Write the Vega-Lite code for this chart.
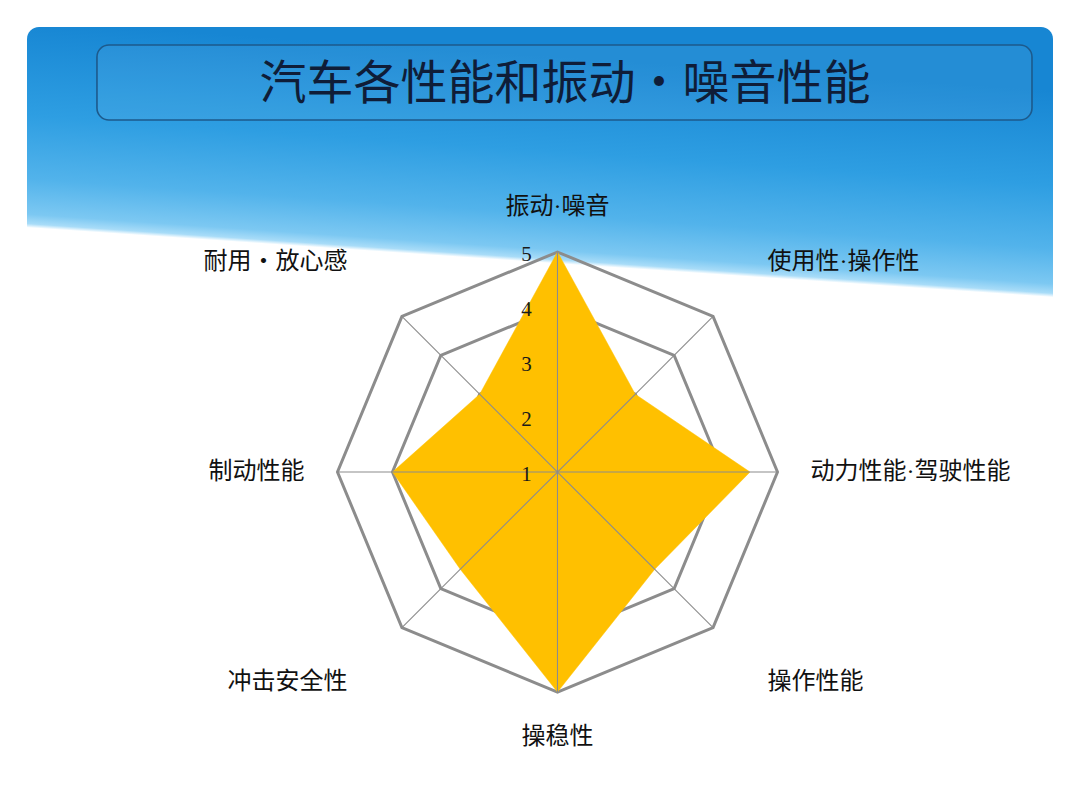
{
  "$schema": "https://vega.github.io/schema/vega-lite/v6.json",
  "width": 1080,
  "height": 810,
  "autosize": {"type": "fit", "contains": "padding"},
  "padding": {"left": 27, "top": 27, "right": 27, "bottom": 0},
  "background": "#ffffff",
  "config": {"view": {"stroke": null}},
  "datasets": {
    "scores": [
      {"idx": 0, "axis": "振动·噪音", "score": 5},
      {"idx": 1, "axis": "使用性·操作性", "score": 3},
      {"idx": 2, "axis": "动力性能·驾驶性能", "score": 4.5},
      {"idx": 3, "axis": "操作性能", "score": 3.5},
      {"idx": 4, "axis": "操稳性", "score": 5},
      {"idx": 5, "axis": "冲击安全性", "score": 3.5},
      {"idx": 6, "axis": "制动性能", "score": 4},
      {"idx": 7, "axis": "耐用・放心感", "score": 3}
    ],
    "grid": [
      {"level": 2, "idx": 0}, {"level": 2, "idx": 1}, {"level": 2, "idx": 2}, {"level": 2, "idx": 3},
      {"level": 2, "idx": 4}, {"level": 2, "idx": 5}, {"level": 2, "idx": 6}, {"level": 2, "idx": 7},
      {"level": 3, "idx": 0}, {"level": 3, "idx": 1}, {"level": 3, "idx": 2}, {"level": 3, "idx": 3},
      {"level": 3, "idx": 4}, {"level": 3, "idx": 5}, {"level": 3, "idx": 6}, {"level": 3, "idx": 7},
      {"level": 4, "idx": 0}, {"level": 4, "idx": 1}, {"level": 4, "idx": 2}, {"level": 4, "idx": 3},
      {"level": 4, "idx": 4}, {"level": 4, "idx": 5}, {"level": 4, "idx": 6}, {"level": 4, "idx": 7},
      {"level": 5, "idx": 0}, {"level": 5, "idx": 1}, {"level": 5, "idx": 2}, {"level": 5, "idx": 3},
      {"level": 5, "idx": 4}, {"level": 5, "idx": 5}, {"level": 5, "idx": 6}, {"level": 5, "idx": 7}
    ],
    "ticks": [{"level": 1}, {"level": 2}, {"level": 3}, {"level": 4}, {"level": 5}],
    "slide": [{"title": "汽车各性能和振动・噪音性能"}]
  },
  "layer": [
    {
      "data": {"name": "slide"},
      "mark": {
        "type": "rect",
        "cornerRadius": 12,
        "fill": {
          "gradient": "linear",
          "x1": 0.089, "y1": 0, "x2": 0, "y2": 1,
          "stops": [
            {"offset": 0, "color": "#1786d3"},
            {"offset": 0.12, "color": "#2e9ee2"},
            {"offset": 0.2, "color": "#52b3eb"},
            {"offset": 0.245, "color": "#7cc8f2"},
            {"offset": 0.257, "color": "#a8dcf8"},
            {"offset": 0.262, "color": "#ffffff"},
            {"offset": 1, "color": "#ffffff"}
          ]
        }
      },
      "encoding": {}
    },
    {
      "data": {"name": "grid"},
      "transform": [
        {"calculate": "datum.idx * PI / 4", "as": "a"},
        {"calculate": "(datum.level - 1) * sin(datum.a)", "as": "gx"},
        {"calculate": "(datum.level - 1) * cos(datum.a)", "as": "gy"}
      ],
      "mark": {"type": "line", "interpolate": "linear-closed", "stroke": "#8c8c8c", "strokeWidth": 3, "strokeJoin": "miter"},
      "encoding": {
        "x": {"field": "gx", "type": "quantitative", "scale": {"domain": [-9.645, 9.009], "nice": false, "zero": false}, "axis": null},
        "y": {"field": "gy", "type": "quantitative", "scale": {"domain": [-6.145, 8.091], "nice": false, "zero": false}, "axis": null},
        "detail": {"field": "level", "type": "nominal"},
        "order": {"field": "idx", "type": "quantitative"}
      }
    },
    {
      "data": {"name": "scores"},
      "transform": [
        {"calculate": "datum.idx * PI / 4", "as": "a"},
        {"calculate": "(datum.score - 1) * sin(datum.a)", "as": "px"},
        {"calculate": "(datum.score - 1) * cos(datum.a)", "as": "py"}
      ],
      "mark": {"type": "line", "interpolate": "linear-closed", "fill": "#FFC000", "stroke": "#FFC000", "strokeWidth": 0.5},
      "encoding": {
        "x": {"field": "px", "type": "quantitative", "scale": {"domain": [-9.645, 9.009], "nice": false, "zero": false}, "axis": null},
        "y": {"field": "py", "type": "quantitative", "scale": {"domain": [-6.145, 8.091], "nice": false, "zero": false}, "axis": null},
        "order": {"field": "idx", "type": "quantitative"}
      }
    },
    {
      "data": {"name": "scores"},
      "transform": [
        {"calculate": "datum.idx * PI / 4", "as": "a"},
        {"calculate": "4 * sin(datum.a)", "as": "sx"},
        {"calculate": "4 * cos(datum.a)", "as": "sy"}
      ],
      "mark": {"type": "rule", "color": "#8c8c8c", "strokeWidth": 1.1},
      "encoding": {
        "x": {"field": "sx", "type": "quantitative", "scale": {"domain": [-9.645, 9.009], "nice": false, "zero": false}, "axis": null},
        "y": {"field": "sy", "type": "quantitative", "scale": {"domain": [-6.145, 8.091], "nice": false, "zero": false}, "axis": null},
        "x2": {"datum": 0},
        "y2": {"datum": 0}
      }
    },
    {
      "data": {"name": "ticks"},
      "transform": [{"calculate": "datum.level - 1", "as": "ty"}, {"calculate": "-0.47", "as": "tx"}],
      "mark": {"type": "text", "font": "Liberation Serif", "fontSize": 21, "color": "#1a1a1a", "align": "right", "baseline": "middle", "dy": 3},
      "encoding": {
        "x": {"field": "tx", "type": "quantitative", "scale": {"domain": [-9.645, 9.009], "nice": false, "zero": false}, "axis": null},
        "y": {"field": "ty", "type": "quantitative", "scale": {"domain": [-6.145, 8.091], "nice": false, "zero": false}, "axis": null},
        "text": {"field": "level", "type": "quantitative"}
      }
    },
    {
      "data": {"name": "scores"},
      "transform": [
        {"calculate": "datum.idx * PI / 4", "as": "a"},
        {"calculate": "4.6 + 0.8 * abs(sin(2 * datum.a))", "as": "lr"},
        {"calculate": "datum.lr * sin(datum.a)", "as": "lx"},
        {"calculate": "datum.lr * cos(datum.a)", "as": "ly"}
      ],
      "mark": {
        "type": "text",
        "font": "Liberation Serif, Noto Sans CJK SC",
        "fontSize": 24,
        "color": "#111111",
        "align": {"expr": "datum.lx > 0.5 ? 'left' : (datum.lx < -0.5 ? 'right' : 'center')"},
        "baseline": {"expr": "datum.ly > 4 ? 'bottom' : (datum.ly < -4 ? 'top' : 'middle')"}
      },
      "encoding": {
        "x": {"field": "lx", "type": "quantitative", "scale": {"domain": [-9.645, 9.009], "nice": false, "zero": false}, "axis": null},
        "y": {"field": "ly", "type": "quantitative", "scale": {"domain": [-6.145, 8.091], "nice": false, "zero": false}, "axis": null},
        "text": {"field": "axis", "type": "nominal"}
      }
    },
    {
      "data": {"name": "slide"},
      "transform": [
        {"calculate": "-8.373", "as": "bx"}, {"calculate": "8.627", "as": "bx2"},
        {"calculate": "7.764", "as": "by"}, {"calculate": "6.4", "as": "by2"},
        {"calculate": "0.136", "as": "cx"}, {"calculate": "7.04", "as": "cy"}
      ],
      "layer": [
        {
          "mark": {"type": "rect", "cornerRadius": 12, "fill": "#ffffff", "fillOpacity": 0.06, "stroke": "#1d5a8c", "strokeWidth": 1.6},
          "encoding": {
            "x": {"field": "bx", "type": "quantitative", "scale": {"domain": [-9.645, 9.009], "nice": false, "zero": false}, "axis": null},
            "x2": {"field": "bx2"},
            "y": {"field": "by", "type": "quantitative", "scale": {"domain": [-6.145, 8.091], "nice": false, "zero": false}, "axis": null},
            "y2": {"field": "by2"}
          }
        },
        {
          "mark": {"type": "text", "font": "Noto Sans CJK SC", "fontSize": 47, "color": "#0f1d38", "align": "center", "baseline": "middle"},
          "encoding": {
            "x": {"field": "cx", "type": "quantitative", "scale": {"domain": [-9.645, 9.009], "nice": false, "zero": false}, "axis": null},
            "y": {"field": "cy", "type": "quantitative", "scale": {"domain": [-6.145, 8.091], "nice": false, "zero": false}, "axis": null},
            "text": {"field": "title", "type": "nominal"}
          }
        }
      ]
    }
  ]
}
